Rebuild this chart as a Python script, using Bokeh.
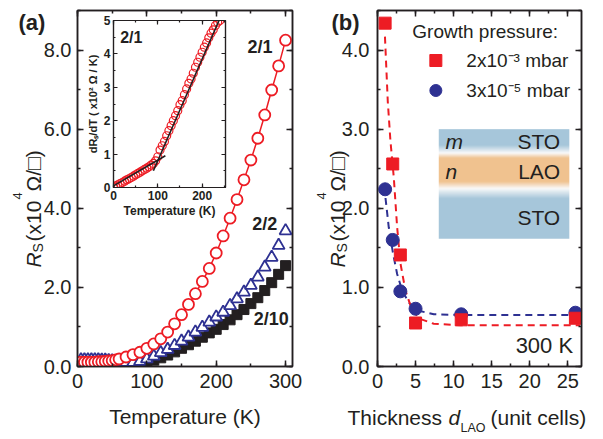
import numpy as np
from bokeh.plotting import figure
from bokeh.models import (LinearAxis, Range1d, Label, Legend, LegendItem, GridBox, Row, Column,
                          SingleIntervalTicker, PrintfTickFormatter, CustomJSTickFormatter)
from bokeh.embed import file_html
from bokeh.resources import INLINE

FONT = "Liberation Sans"
INK = "#231f20"
RED = "#ed1c24"
BLUE = "#2e3192"

# ---------------- panel (a) data ----------------
T_21 = [5, 10, 15, 20, 25, 30, 35, 40, 45, 50, 55, 60, 70, 80, 90, 100, 110, 120, 130, 140,
        150, 160, 170, 180, 190, 200, 210, 220, 230, 240, 250, 260, 270, 280, 290, 300]
R_21 = [0.11, 0.11, 0.11, 0.11, 0.11, 0.12, 0.12, 0.13, 0.14, 0.15, 0.17, 0.19, 0.24, 0.30,
        0.36, 0.46, 0.57, 0.70, 0.87, 1.08, 1.31, 1.57, 1.84, 2.15, 2.48, 2.87, 3.30, 3.75,
        4.22, 4.72, 5.22, 5.77, 6.36, 6.99, 7.60, 8.25]

T_22 = [5, 10, 15, 20, 25, 30, 35, 40, 45, 50, 60, 70, 80, 90, 100, 110, 120, 130, 140, 150,
        160, 170, 180, 190, 200, 210, 220, 230, 240, 250, 260, 270, 280, 290, 300]
R_22 = [0.17, 0.17, 0.17, 0.17, 0.17, 0.17, 0.16, 0.16, 0.15, 0.14, 0.12, 0.10, 0.10, 0.13,
        0.19, 0.26, 0.35, 0.43, 0.53, 0.64, 0.74, 0.87, 0.99, 1.12, 1.25, 1.37, 1.54, 1.71,
        1.88, 2.05, 2.26, 2.51, 2.76, 3.06, 3.43]

T_210 = [80, 90, 100, 110, 120, 130, 140, 150, 160, 170, 180, 190, 200, 210, 220, 230, 240,
         250, 260, 270, 280, 290, 300]
R_210 = [0.02, 0.05, 0.10, 0.16, 0.22, 0.29, 0.37, 0.46, 0.55, 0.64, 0.74, 0.85, 0.94, 1.06,
         1.18, 1.31, 1.44, 1.59, 1.74, 1.92, 2.12, 2.33, 2.55]

# inset: dR/dT of sample 2/1 (x10^2 Ohm/K)
T_ins = [0, 5, 10, 15, 20, 25, 30, 35, 40, 45, 50, 55, 60, 65, 70, 75, 80, 85, 90, 95, 100,
         105, 110, 115, 120, 125, 130, 135, 140, 145, 150, 155, 160, 165, 170, 175, 180, 185,
         190, 195, 200, 205, 210, 215, 220, 225, 230, 235, 240]
D_ins = [0.02, 0.05, 0.08, 0.12, 0.15, 0.19, 0.23, 0.26, 0.30, 0.34, 0.38, 0.42, 0.46, 0.50,
         0.54, 0.58, 0.62, 0.67, 0.72, 0.80, 0.92, 1.12, 1.25, 1.38, 1.55, 1.70, 1.85, 2.00,
         2.15, 2.30, 2.48, 2.60, 2.78, 2.95, 3.12, 3.25, 3.42, 3.60, 3.75, 3.90, 4.05, 4.20,
         4.33, 4.48, 4.62, 4.72, 4.85, 4.95, 5.00]
fit_low_T = [0, 117]
fit_low_D = [0.05, 0.95]
fit_high_T = [90, 238]
fit_high_D = [0.50, 5.00]

# ---------------- panel (b) data ----------------
d_hi = [1, 2, 3, 5, 11, 26]            # 2x10^-3 mbar
R_hi = [4.34, 2.56, 1.41, 0.55, 0.59, 0.61]
d_lo = [1, 2, 3, 5, 11, 26]            # 3x10^-5 mbar
R_lo = [2.24, 1.60, 0.95, 0.73, 0.66, 0.68]
fit_hi_d = [0.98, 1.35, 1.7, 2.14, 2.58, 3.02, 3.67, 4.55, 5.64, 7.4, 10.9, 26.6]
fit_hi_R = [4.17, 3.35, 2.85, 2.39, 1.76, 1.30, 0.96, 0.71, 0.60, 0.54, 0.52, 0.52]
fit_lo_d = [1.05, 1.48, 2.06, 2.58, 3.24, 4.1, 5.2, 7.4, 11.8, 26.6]
fit_lo_R = [2.13, 1.76, 1.42, 1.17, 0.96, 0.81, 0.71, 0.66, 0.65, 0.65]
legend_labels = ["2x10\u207b\u00b3 mbar", "3x10\u207b\u2075 mbar"]

EMPTY = CustomJSTickFormatter(code="return ''")


def style_axis(ax, size, show=True, bold=False, tin=6, minin=3, standoff=6, lw=1.5):
    ax.axis_line_color = INK
    ax.axis_line_width = lw
    ax.major_tick_in = tin
    ax.major_tick_out = 0
    ax.minor_tick_in = minin
    ax.minor_tick_out = 0
    ax.major_tick_line_color = INK
    ax.minor_tick_line_color = INK
    ax.major_tick_line_width = lw
    ax.minor_tick_line_width = lw
    ax.major_label_text_font = FONT
    ax.major_label_text_color = INK
    ax.major_label_text_font_style = "bold" if bold else "normal"
    ax.major_label_text_font_size = f"{size}px" if show else "1px"
    ax.major_label_standoff = standoff if show else 0
    ax.axis_label_text_font = FONT
    ax.axis_label_text_color = INK
    ax.axis_label_text_font_style = "bold" if bold else "normal"


def frame_axes(p, xt, yt, xfmt, yfmt, size, bold=False, tin=6, minin=3, xs=7, ys=6, lw=1.5):
    bottom = p.xaxis[0]
    left = p.yaxis[0]
    bottom.ticker = xt
    left.ticker = yt
    bottom.formatter = xfmt
    left.formatter = yfmt
    style_axis(bottom, size, bold=bold, tin=tin, minin=minin, standoff=xs, lw=lw)
    style_axis(left, size, bold=bold, tin=tin, minin=minin, standoff=ys, lw=lw)
    top = LinearAxis(ticker=xt, formatter=EMPTY)
    right = LinearAxis(ticker=yt, formatter=EMPTY)
    style_axis(top, size, show=False, tin=tin, minin=minin, lw=lw)
    style_axis(right, size, show=False, tin=tin, minin=minin, lw=lw)
    p.add_layout(top, "above")
    p.add_layout(right, "right")
    p.xgrid.visible = False
    p.ygrid.visible = False
    p.outline_line_color = INK
    p.outline_line_width = lw
    return bottom, left


def txt(p, x, y, s, size, style="normal", align="left", base="middle", angle=0.0):
    p.add_layout(Label(x=x, y=y, text=s, text_font=FONT, text_font_size=f"{size}px",
                       text_font_style=style, text_color=INK, text_align=align,
                       text_baseline=base, angle=angle))


W_TOT, H_TOT = 598, 437

# ================= panel (a) =================
pa = figure(width=308, height=H_TOT, x_range=Range1d(0, 310), y_range=Range1d(0, 9),
            output_backend="svg", toolbar_location=None,
            min_border_left=77, min_border_right=16, min_border_top=10, min_border_bottom=71)
ax_b, ax_l = frame_axes(pa, SingleIntervalTicker(interval=100, num_minor_ticks=2),
                        SingleIntervalTicker(interval=2, num_minor_ticks=2),
                        PrintfTickFormatter(format="%d"), PrintfTickFormatter(format="%.1f"), 20)
ax_b.axis_label = "Temperature (K)"
ax_b.axis_label_text_font_size = "21px"
ax_b.axis_label_standoff = 14

pa.scatter(T_210, R_210, marker="square", size=10, color=INK)
pa.scatter(T_22, R_22, marker="triangle", size=12, line_color=BLUE, fill_color="white",
           line_width=1.8)
pa.line(T_21, R_21, color=RED, line_width=1.5)
pa.scatter(T_21, R_21, marker="circle", size=11, line_color=RED, fill_color="white",
           line_width=1.8)

txt(pa, 245, 8.08, "2/1", 18, "bold")
txt(pa, 252, 3.59, "2/2", 18, "bold")
txt(pa, 254, 1.21, "2/10", 18, "bold")

# ================= inset =================
ins = figure(width=151, height=209, x_range=Range1d(0, 252.7), y_range=Range1d(0, 5),
             output_backend="svg", toolbar_location=None,
             min_border_left=33, min_border_right=6, min_border_top=6, min_border_bottom=36,
             background_fill_color=None, border_fill_color=None)
ib, il = frame_axes(ins, SingleIntervalTicker(interval=100, num_minor_ticks=2),
                    SingleIntervalTicker(interval=1, num_minor_ticks=2),
                    PrintfTickFormatter(format="%d"), PrintfTickFormatter(format="%d"), 12,
                    bold=True, tin=4, minin=2, xs=3, ys=3, lw=1.2)
ib.axis_label = "Temperature (K)"
ib.axis_label_text_font_size = "12px"
ib.axis_label_standoff = 1
il.axis_label = "dR\u209b/dT ( x10\u00b2 \u03a9 / K)"
il.axis_label_text_font_size = "11px"
il.axis_label_standoff = 2
ins.scatter(T_ins, D_ins, marker="circle", size=8, line_color=RED, fill_color=None,
            line_width=1.2)
ins.line(fit_low_T, fit_low_D, color=INK, line_width=1.6)
ins.line(fit_high_T, fit_high_D, color=INK, line_width=1.6)
txt(ins, 15, 4.48, "2/1", 16, "bold")

# ================= panel (b) =================
pb = figure(width=W_TOT - 308, height=H_TOT, x_range=Range1d(0, 26.8), y_range=Range1d(0, 4.5),
            output_backend="svg", toolbar_location=None,
            min_border_left=69, min_border_right=17, min_border_top=10, min_border_bottom=71)
frame_axes(pb, SingleIntervalTicker(interval=5, num_minor_ticks=2),
           SingleIntervalTicker(interval=1, num_minor_ticks=2),
           PrintfTickFormatter(format="%d"), PrintfTickFormatter(format="%.1f"), 20, ys=8)

# layer sketch (STO / LAO / STO) as vertical gradient image
N = 110
box_x, box_y, box_w, box_h = 8.05, 1.615, 17.15, 1.385
top_px, bot_px = 128.3, 237.7
rows_px = bot_px - (np.arange(N) + 0.5) * (bot_px - top_px) / N
kp = [128, 145, 153, 158, 181, 188, 198, 238]
cb = (166, 198, 218)
cw = (250, 250, 250)
co = (240, 194, 143)
kc = [cb, cb, cw, co, co, cw, cb, cb]
img = np.empty((N, 2), dtype=np.uint32)
view = img.view(dtype=np.uint8).reshape((N, 2, 4))
for ch in range(3):
    col = np.interp(rows_px, kp, [c[ch] for c in kc])
    view[:, :, ch] = col[:, None].astype(np.uint8)
view[:, :, 3] = 255
pb.image_rgba(image=[img], x=box_x, y=box_y, dw=box_w, dh=box_h)

pb.line(fit_lo_d, fit_lo_R, color=BLUE, line_width=2, line_dash="7 5")
pb.line(fit_hi_d, fit_hi_R, color=RED, line_width=2, line_dash="7 5")
r_lo = pb.scatter(d_lo, R_lo, marker="circle", size=13, color=BLUE)
r_hi = pb.scatter(d_hi, R_hi, marker="square", size=12, color=RED)

leg = Legend(items=[LegendItem(label=legend_labels[0], renderers=[r_hi]),
                    LegendItem(label=legend_labels[1], renderers=[r_lo])],
             title="Growth pressure:", location="top_right")
leg.title_text_font = FONT
leg.title_text_font_size = "19px"
leg.title_text_font_style = "normal"
leg.title_text_color = INK
leg.title_standoff = 2
leg.label_text_font = FONT
leg.label_text_font_size = "19px"
leg.label_text_color = INK
leg.glyph_width = 46
leg.glyph_height = 30
leg.label_height = 30
leg.label_standoff = 8
leg.spacing = 0
leg.padding = 0
leg.margin = 11
leg.border_line_color = None
leg.background_fill_alpha = 0
pb.add_layout(leg)

txt(pb, 8.92, 2.85, "m", 21, "italic")
txt(pb, 24.0, 2.85, "STO", 21, align="right")
txt(pb, 8.92, 2.46, "n", 21, "italic")
txt(pb, 24.0, 2.46, "LAO", 21, align="right")
txt(pb, 24.0, 1.88, "STO", 21, align="right")
txt(pb, 25.7, 0.265, "300 K", 22, align="right")

# ================= text overlay (page pixel coordinates, y downward) =================
ov = figure(width=W_TOT, height=H_TOT, x_range=Range1d(0, W_TOT), y_range=Range1d(H_TOT, 0),
            output_backend="svg", toolbar_location=None, x_axis_location=None,
            y_axis_location=None, min_border=0, min_border_left=0, min_border_right=0,
            min_border_top=0, min_border_bottom=0, background_fill_color=None,
            border_fill_color=None, outline_line_color=None)
ov.xgrid.visible = False
ov.ygrid.visible = False

A90 = np.pi / 2
txt(ov, 18, 22, "(a)", 22, "bold")
txt(ov, 331, 22, "(b)", 22, "bold")
# y label panel (a)
txt(ov, 33, 267, "R", 21, "italic", base="alphabetic", angle=A90)
txt(ov, 37, 252, "S", 14, base="alphabetic", angle=A90)
txt(ov, 33, 241, "(x10", 21, base="alphabetic", angle=A90)
txt(ov, 17, 199, "4", 13, base="alphabetic", angle=A90)
txt(ov, 33, 191, "\u03a9/\u25a1)", 21, base="alphabetic", angle=A90)
# y label panel (b)
txt(ov, 337, 267, "R", 21, "italic", base="alphabetic", angle=A90)
txt(ov, 341, 252, "S", 14, base="alphabetic", angle=A90)
txt(ov, 337, 241, "(x10", 21, base="alphabetic", angle=A90)
txt(ov, 321, 199, "4", 13, base="alphabetic", angle=A90)
txt(ov, 337, 191, "\u03a9/\u25a1)", 21, base="alphabetic", angle=A90)
# x label panel (b)
txt(ov, 347, 417, "Thickness", 21)
txt(ov, 448, 417, "d", 21, "italic")
txt(ov, 460, 427, "LAO", 12.5)
txt(ov, 490, 417, "(unit cells)", 21)

panels = Row(children=[pa, pb])
ins_box = Column(children=[ins], margin=(14, 0, 0, 80))
ov_box = Column(children=[ov])
grid = GridBox(children=[(panels, 0, 0), (ins_box, 0, 0), (ov_box, 0, 0)])

open("out.html", "w").write(file_html(grid, INLINE))
